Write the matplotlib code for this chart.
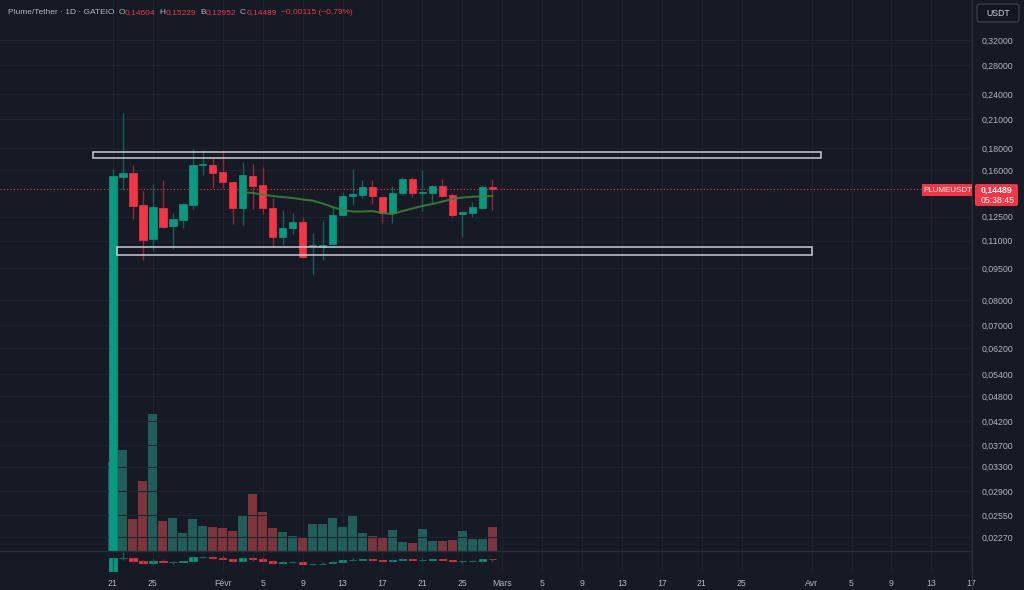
import numpy as np
import pandas as pd
import matplotlib
matplotlib.use("Agg")
import matplotlib.pyplot as plt
import matplotlib.ticker as mticker
from matplotlib.patches import Rectangle, FancyBboxPatch
from matplotlib.lines import Line2D
from matplotlib.transforms import IdentityTransform

# ---------------- data ----------------
dates = pd.date_range("2025-01-21", "2025-02-28", freq="D")

opens = [0.0150, 0.1543, 0.1574, 0.1329, 0.1109, 0.1308, 0.1188, 0.1227, 0.1329, 0.1641,
         0.1645, 0.1585, 0.1502, 0.1308, 0.1551, 0.1478, 0.1308, 0.1121, 0.1176, 0.1214,
         0.1068, 0.1063, 0.1079, 0.1260, 0.1397, 0.1404, 0.1460, 0.1389, 0.1272, 0.1415,
         0.1524, 0.1418, 0.1419, 0.1473, 0.1402, 0.1265, 0.1274, 0.1306, 0.14604]
highs = [0.1610, 0.2170, 0.1645, 0.1432, 0.1486, 0.1518, 0.1274, 0.1341, 0.1791, 0.1781,
         0.1708, 0.1781, 0.1505, 0.1671, 0.1653, 0.1627, 0.1380, 0.1294, 0.1275, 0.1247,
         0.1145, 0.1218, 0.1316, 0.1427, 0.1610, 0.1518, 0.1518, 0.1392, 0.1471, 0.1543,
         0.1543, 0.1601, 0.1480, 0.1527, 0.1419, 0.1290, 0.1354, 0.1475, 0.15229]
lows = [0.0150, 0.1440, 0.1234, 0.0992, 0.1046, 0.1176, 0.1052, 0.1176, 0.1301, 0.1559,
        0.1455, 0.1455, 0.1201, 0.1195, 0.1301, 0.1267, 0.1063, 0.1074, 0.1139, 0.1005,
        0.0921, 0.0992, 0.1075, 0.1258, 0.1329, 0.1377, 0.1336, 0.1208, 0.1205, 0.1404,
        0.1385, 0.1290, 0.1344, 0.1390, 0.1250, 0.1123, 0.1245, 0.1300, 0.12952]
closes = [0.1551, 0.1574, 0.1322, 0.1103, 0.1315, 0.1182, 0.1234, 0.1336, 0.1645, 0.1650,
          0.1577, 0.1502, 0.1308, 0.1559, 0.1471, 0.1308, 0.1121, 0.1176, 0.1214, 0.1008,
          0.1072, 0.1077, 0.1260, 0.1397, 0.1409, 0.1460, 0.1394, 0.1272, 0.1415, 0.1524,
          0.1415, 0.1422, 0.1473, 0.1394, 0.1262, 0.1283, 0.1316, 0.1460, 0.14489]
volumes = [8.9, 10.07, 3.2, 7.0, 13.73, 2.97, 3.27, 1.8, 3.2, 2.47, 2.4, 2.33, 1.97, 3.47,
           5.67, 3.9, 2.33, 1.9, 1.53, 1.27, 2.67, 2.73, 3.3, 2.4, 3.6, 1.8, 1.53, 1.4, 2.1,
           0.9, 0.77, 2.2, 1.0, 1.0, 1.07, 2.0, 1.2, 1.2, 2.4]

ma_start = "2025-02-03"
ma_values = [0.1424, 0.1417, 0.1406, 0.1394, 0.1387, 0.1380, 0.1369, 0.1361, 0.1340, 0.1315,
             0.1294, 0.1284, 0.1284, 0.1287, 0.1274, 0.1267, 0.1287, 0.1305, 0.1322, 0.1336,
             0.1354, 0.1372, 0.1383, 0.1389, 0.1392, 0.1394]

# zones (day offsets from first date, price low/high)
zone_x0 = [-2.0, 0.4]
zone_x1 = [70.9, 70.0]
zone_lo = [0.1705, 0.1020]
zone_hi = [0.1760, 0.1065]

price_ticks = [0.32, 0.28, 0.24, 0.21, 0.18, 0.16, 0.125, 0.11, 0.095, 0.08, 0.07, 0.062,
               0.054, 0.048, 0.042, 0.037, 0.033, 0.029, 0.0255, 0.0227]

tick_dates = ["2025-01-21", "2025-01-25", "2025-02-01", "2025-02-05", "2025-02-09",
              "2025-02-13", "2025-02-17", "2025-02-21", "2025-02-25", "2025-03-01",
              "2025-03-05", "2025-03-09", "2025-03-13", "2025-03-17", "2025-03-21",
              "2025-03-25", "2025-04-01", "2025-04-05", "2025-04-09", "2025-04-13",
              "2025-04-17"]
tick_labels = ["21", "25", "Févr", "5", "9", "13", "17", "21", "25", "Mars", "5", "9", "13",
               "17", "21", "25", "Avr", "5", "9", "13", "17"]

last_price = 0.14489
header_groups = [("Plume/Tether · 1D · GATEIO", ""), ("O", "0,14604"), ("H", "0,15229"),
                 ("B", "0,12952"), ("C", "0,14489"), ("", "−0,00115 (−0,79%)")]

# ---------------- style ----------------
BG = "#161a25"
GRID = "#1f2330"
TXT = "#b2b5be"
UP = "#089981"
DN = "#f23645"
UPW = "#145f56"
DNW = "#8a2833"
VUP = "#225e59"
VDN = "#7b353b"
SEP = "#2a2e39"
FONT = "Liberation Sans"

plt.rcParams["font.family"] = [FONT, "DejaVu Sans"]

W, H = 1024, 590
fig = plt.figure(figsize=(W / 100, H / 100), dpi=100, facecolor=BG)


def fy(py):
    return 1 - py / H


t0 = dates[0]
x = np.array([(d - t0).days for d in dates], dtype=float)
o = np.array(opens); h = np.array(highs); l = np.array(lows); c = np.array(closes)
v = np.array(volumes)
up = c >= o
tick_x = [(pd.Timestamp(d) - t0).days for d in tick_dates]
ma_x = np.arange(len(ma_values)) + (pd.Timestamp(ma_start) - t0).days

rect_main = [0, fy(551), 972 / W, 551 / H]
axv = fig.add_axes(rect_main, facecolor=BG)
ax = fig.add_axes(rect_main, sharex=axv, facecolor="none")
axm = fig.add_axes([0, fy(572), 972 / W, 21 / H], sharex=axv, facecolor=BG)

XL = (-11.32, 86.07)
axv.set_xlim(*XL)

# volume
axv.set_axisbelow(True)
axv.bar(x, v, width=0.9, color=np.where(up, VUP, VDN), zorder=2)
axv.set_ylim(0, 55.1)
axv.set_yticks([])
axv.set_xticks(tick_x)
axv.tick_params(axis="x", length=0, labelbottom=False)
axv.grid(True, axis="x", color=GRID, lw=0.8)
for s in axv.spines.values():
    s.set_visible(False)

# price
ax.set_yscale("log")
ax.set_ylim(0.02106, 0.396)
ax.vlines(x, l, h, colors=np.where(up, UPW, DNW), lw=1.0, zorder=3)
body_lo = np.minimum(o, c)
body_hi = np.maximum(o, c)
ax.bar(x, body_hi - body_lo, bottom=body_lo, width=0.74,
       color=np.where(up, UP, DN), edgecolor=np.where(up, UP, DN), lw=0.5, zorder=4)
ax.plot(ma_x, ma_values, color="#3a823a", lw=1.5, alpha=0.85, zorder=5)
for x0, x1, lo, hi in zip(zone_x0, zone_x1, zone_lo, zone_hi):
    ax.add_patch(Rectangle((x0, lo), x1 - x0, hi - lo, fill=False,
                           edgecolor="#c9ccd4", lw=1.1, zorder=6))
ax.axhline(last_price, color=DN, lw=0.8, ls=(0, (1, 2)), zorder=2)

ax.set_yticks(price_ticks)
ax.yaxis.set_minor_locator(mticker.NullLocator())
ax.yaxis.set_major_formatter(mticker.FuncFormatter(lambda val, p: f"{val:.5f}".replace(".", ",")))
ax.yaxis.tick_right()
ax.tick_params(axis="y", length=0, pad=7, labelsize=6.3, labelcolor=TXT)
ax.tick_params(axis="x", length=0, labelbottom=False)
ax.grid(True, axis="y", color=GRID, lw=0.8, zorder=0)
for s in ax.spines.values():
    s.set_visible(False)

# mini pane
axm.set_ylim(0.03, 0.222)
axm.set_axisbelow(True)
axm.vlines(x, l, h, colors=np.where(up, UPW, DNW), lw=1.0)
axm.bar(x, body_hi - body_lo, bottom=body_lo, width=0.74,
        color=np.where(up, UP, DN), edgecolor=np.where(up, UP, DN), lw=0.5)
axm.set_yticks([])
axm.set_xticks(tick_x)
axm.set_xticklabels(tick_labels)
axm.tick_params(axis="x", length=0, pad=5, labelsize=6.3, labelcolor=TXT)
axm.grid(True, axis="x", color=GRID, lw=0.8)
for s in axm.spines.values():
    s.set_visible(False)

# separators
fig.add_artist(Line2D([972 / W, 972 / W], [fy(0), fy(590)], color=SEP, lw=0.8))
fig.add_artist(Line2D([0, 972 / W], [fy(551), fy(551)], color=SEP, lw=1.0))

# header text, laid out sequentially on a common baseline
renderer = fig.canvas.get_renderer()
hx = 8.0
hy = fy(14)
for lab, val in header_groups:
    for txt, col in ((lab, TXT), (val, DN)):
        if not txt:
            continue
        t = fig.text(hx / W, hy, txt, color=col, fontsize=6.0, va="baseline", ha="left")
        hx += t.get_window_extent(renderer).width + 0.3
    hx += 3.5

IT = IdentityTransform()
# USDT box
fig.add_artist(FancyBboxPatch((977, H - 22), 42, 18, boxstyle="round,pad=0,rounding_size=3",
                              transform=IT, facecolor="#131722", edgecolor="#434651", lw=0.8))
fig.text(998 / W, fy(13), "USDT", color="#d1d4dc", fontsize=6.3, ha="center", va="center")

# last price labels
fig.add_artist(Rectangle((922, H - 196), 51, 12, transform=IT, facecolor=DN, edgecolor="none"))
fig.text(947.5 / W, fy(190), "PLUMEUSDT", color="white", fontsize=5.8, ha="center", va="center")
fig.add_artist(FancyBboxPatch((975, H - 206), 43, 22, boxstyle="round,pad=0,rounding_size=2",
                              transform=IT, facecolor=DN, edgecolor="none"))
fig.text(981 / W, fy(190), "0,14489", color="white", fontsize=6.3, ha="left", va="center",
         fontweight="bold")
fig.text(981 / W, fy(200.5), "05:38:45", color="white", fontsize=6.3, ha="left", va="center")

fig.savefig("out.png", dpi=100, facecolor=BG)
